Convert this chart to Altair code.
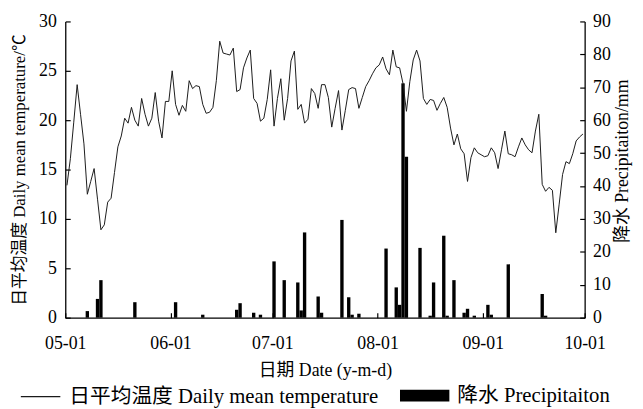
import altair as alt
import pandas as pd

YEAR = 2023

# Daily mean temperature (deg C), one value per day
temp_may = [13.4, 16.1, 19.8, 23.6, 20.6, 17.6, 12.5, 13.8, 15.1, 12.0,
            8.9, 9.4, 11.7, 12.1, 14.7, 17.3, 18.4, 20.2, 19.7, 21.3,
            20.0, 19.4, 22.2, 20.6, 19.4, 20.2, 22.8, 19.9, 18.2, 21.9,
            21.9]
temp_jun = [25.0, 21.6, 20.5, 21.5, 20.9, 24.0, 23.2, 23.5, 23.4, 21.6,
            20.7, 20.8, 21.3, 24.0, 28.0, 26.8, 26.7, 26.6, 27.3, 22.9,
            23.1, 25.3, 26.3, 27.1, 22.2, 21.7, 19.9, 20.2, 22.1, 25.1]
temp_jul = [19.4, 22.2, 24.2, 20.0, 22.2, 26.0, 27.0, 21.1, 21.6, 19.7,
            20.1, 23.2, 22.7, 21.2, 23.6, 23.6, 22.3, 19.3, 21.2, 23.0,
            19.0, 21.0, 23.1, 23.3, 23.2, 21.2, 22.3, 23.4, 24.0, 24.7,
            25.3]
temp_aug = [25.6, 26.4, 25.2, 24.6, 27.1, 25.4, 25.3, 23.7, 20.9, 23.9,
            26.1, 27.1, 26.0, 22.2, 21.6, 22.1, 22.0, 21.0, 21.7, 22.3,
            21.3, 19.2, 17.5, 18.6, 17.1, 16.6, 13.8, 16.2, 17.2, 16.7,
            16.5]
temp_sep = [16.3, 16.4, 17.2, 16.7, 15.1, 17.0, 18.9, 16.6, 16.5, 16.3,
            17.3, 18.2, 17.5, 17.0, 16.7, 18.9, 20.6, 13.5, 12.8, 13.2,
            12.9, 8.6, 11.5, 14.5, 15.8, 15.6, 16.6, 17.9, 18.3, 18.6]

# Daily precipitation (mm), days with rain only
precip_dates = ["05-07", "05-10", "05-11", "05-21", "06-02", "06-10",
                "06-20", "06-21", "06-25", "06-27", "07-01", "07-04",
                "07-08", "07-09", "07-10", "07-14", "07-15", "07-21",
                "07-23", "07-24", "07-26", "08-03", "08-06", "08-07",
                "08-08", "08-09", "08-13", "08-16", "08-17", "08-20",
                "08-21", "08-23", "08-26", "08-27", "08-29", "09-02",
                "09-03", "09-08", "09-18", "09-19"]
precip_mm = [2.0, 5.7, 11.4, 4.7, 4.7, 0.9,
             2.4, 4.4, 1.5, 0.9, 17.1, 11.4,
             10.7, 2.2, 25.9, 6.4, 1.5, 29.7,
             6.2, 0.9, 1.2, 21.0, 9.2, 3.9,
             71.2, 48.9, 21.2, 0.6, 10.7, 24.9,
             0.6, 11.4, 1.5, 2.7, 0.6, 3.9,
             0.9, 16.2, 7.2, 0.6]

x_tick_labels = ["05-01", "06-01", "07-01", "08-01", "09-01", "10-01"]
temp_ticks = [0, 5, 10, 15, 20, 25, 30]
precip_ticks = [0, 10, 20, 30, 40, 50, 60, 70, 80, 90]

LINE_NAME = "日平均温度 Daily mean temperature"
BAR_NAME = "降水 Precipitaiton"

# ---- tables ----
rows = []
for month, vals in zip([5, 6, 7, 8, 9], [temp_may, temp_jun, temp_jul, temp_aug, temp_sep]):
    for i, v in enumerate(vals):
        rows.append({"date": f"{YEAR}-{month:02d}-{i + 1:02d}T12:00:00", "temp": v, "series": LINE_NAME})
df_t = pd.DataFrame(rows)

df_p = pd.DataFrame({
    "date": [f"{YEAR}-{d}T12:00:00" for d in precip_dates],
    "mm": precip_mm,
    "series": BAR_NAME,
})

FONT = "'Liberation Serif', 'Noto Sans CJK SC', serif"
FS = 18
LEG_FS = 21


def dt(label):
    return alt.DateTime(year=YEAR, month=int(label[:2]), date=int(label[3:]))


x_enc = alt.X(
    "date:T",
    scale=alt.Scale(domain=[dt(x_tick_labels[0]), dt(x_tick_labels[-1])], padding=0),
    axis=alt.Axis(
        values=[dt(l) for l in x_tick_labels],
        format="%m-%d",
        title="日期 Date (y-m-d)",
        labelFlush=False,
        labelOverlap=False,
        tickSize={"expr": "-5"},
        labelPadding=22,
        titleY=54,
        titleBaseline="middle",
    ),
)

bars = alt.Chart(df_p).mark_bar(width=3.4, color="black").encode(
    x=x_enc,
    y=alt.Y(
        "mm:Q",
        scale=alt.Scale(domain=[0, 90], nice=False),
        axis=alt.Axis(
            orient="right",
            values=precip_ticks,
            title="降水 Precipitaiton/mm",
            tickSize={"expr": "-5"},
            labelPadding=13,
            labelFlush=False,
            titleAngle=270,
            titleBaseline="middle",
            titleX=38,
            titleY=141,
        ),
    ),
    fill=alt.Fill(
        "series:N",
        scale=alt.Scale(domain=[BAR_NAME], range=["black"]),
        legend=alt.Legend(
            orient="none", legendX=339, legendY=354, title=None,
            symbolType="M-1,-0.24H1V0.24H-1Z", symbolSize=2500,
            symbolStrokeWidth=0, labelOffset=8, padding=0,
        ),
    ),
)

line = alt.Chart(df_t).mark_line(strokeWidth=1.0, color="#1a1a1a").encode(
    x=x_enc,
    y=alt.Y(
        "temp:Q",
        scale=alt.Scale(domain=[0, 30], nice=False),
        axis=alt.Axis(
            orient="left",
            values=temp_ticks,
            title="日平均温度 Daily mean temperature/℃",
            titleFontSize=17,
            tickSize={"expr": "-5"},
            labelPadding=14,
            labelFlush=False,
            titleAngle=270,
            titleBaseline="middle",
            titleX=-46,
            titleY=150,
        ),
    ),
    stroke=alt.Stroke(
        "series:N",
        scale=alt.Scale(domain=[LINE_NAME], range=["#1a1a1a"]),
        legend=alt.Legend(
            orient="none", legendX=-46, legendY=359, title=None,
            symbolType="stroke", symbolSize=1600, symbolStrokeWidth=1.2,
            labelOffset=8, padding=0,
        ),
    ),
)

chart = (
    alt.layer(bars, line)
    .resolve_scale(y="independent")
    .properties(
        width=526,
        height=300,
        autosize=alt.AutoSizeParams(type="none"),
        padding={"left": 58, "top": 11, "right": 51, "bottom": 100},
    )
    .configure_view(strokeWidth=0)
    .configure_axis(
        grid=False,
        domainColor="black",
        domainWidth=1.3,
        tickColor="black",
        tickWidth=1.2,
        labelFont=FONT,
        labelFontSize=FS,
        labelColor="black",
        titleFont=FONT,
        titleFontSize=FS,
        titleFontWeight="normal",
        titleColor="black",
    )
    .configure_legend(
        labelFont=FONT,
        labelFontSize=LEG_FS,
        labelColor="black",
        labelLimit=0,
    )
)

chart.save("out.html", embed_options={"renderer": "svg", "actions": False})
